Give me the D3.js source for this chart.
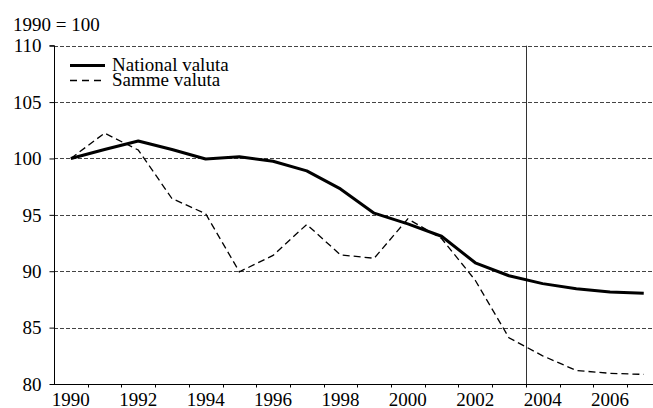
<!DOCTYPE html>
<html><head><meta charset="utf-8"><script src="https://cdn.jsdelivr.net/npm/d3@7"></script></head>
<body style="margin:0">
<svg id="chart" width="653" height="408"></svg>
<script>
const years = [1990,1991,1992,1993,1994,1995,1996,1997,1998,1999,2000,2001,2002,2003,2004,2005,2006,2007];
const nationalValuta = [100.0,100.8,101.55,100.8,99.95,100.15,99.75,98.9,97.3,95.15,94.2,93.1,90.75,89.6,88.9,88.45,88.15,88.05];
const sammeValuta = [100.0,102.25,100.75,96.45,95.1,89.95,91.4,94.15,91.45,91.15,94.65,92.9,89.2,84.1,82.5,81.2,80.95,80.85];
const yTicks = [80,85,90,95,100,105,110];
const xTickLabels = [1990,1992,1994,1996,1998,2000,2002,2004,2006];
const seriesNames = ["National valuta","Samme valuta"];
const markerYear = 2004;
const unitLabel = "1990 = 100";

const fontName = "Liberation Serif";
const fontSize = 19;
const svg = d3.select("#chart");
const plotLeft = 54, plotTop = 45.7, plotBottom = 384;
const band = 33.7;

const x = d3.scaleBand().domain(years).range([plotLeft, plotLeft + band * years.length]).paddingInner(0).paddingOuter(0);
const y = d3.scaleLinear().domain([80,110]).range([plotBottom, plotTop]);
const cx = d => x(d) + x.bandwidth() / 2;

function addText(sel) {
  return sel.append("text").attr("fill", "#000");
}

// gridlines
svg.append("g").selectAll("line").data(yTicks.filter(v => v > 80)).join("line")
  .attr("x1", plotLeft).attr("x2", 653)
  .attr("y1", d => Math.round(y(d)) + 0.5).attr("y2", d => Math.round(y(d)) + 0.5)
  .attr("stroke", "#444").attr("stroke-width", 1).attr("stroke-dasharray", "4,2");

// y axis
const yAxis = d3.axisLeft(y).tickValues(yTicks).tickSize(5).tickPadding(8).tickFormat(d3.format("d"));
const gy = svg.append("g").attr("transform", `translate(${plotLeft + 0.5},0)`).call(yAxis);
gy.attr("font-family", fontName).attr("font-size", fontSize);
gy.select(".domain").attr("stroke", "#000").attr("d", `M-5,${y(110)}H0V${plotBottom}`);
gy.selectAll(".tick line").attr("stroke", "#000");
gy.selectAll(".tick text").attr("fill", "#000").attr("dy", "0.33em");

// x axis: ticks at band boundaries
const boundaries = years.map(d => x(d)).concat([x(years[years.length-1]) + x.bandwidth()]);
const gx = svg.append("g");
gx.append("line").attr("x1", plotLeft).attr("x2", 653).attr("y1", plotBottom + 0.5).attr("y2", plotBottom + 0.5).attr("stroke", "#000");
gx.selectAll("line.tk").data(boundaries.slice(1)).join("line").attr("class", "tk")
  .attr("x1", d => Math.round(d) + 0.5).attr("x2", d => Math.round(d) + 0.5)
  .attr("y1", plotBottom).attr("y2", plotBottom + 3.5).attr("stroke", "#000");
gx.selectAll("text").data(xTickLabels).join("text")
  .attr("x", d => cx(d)).attr("y", 406).attr("text-anchor", "middle")
  .attr("fill", "#000").text(d => d);

// vertical marker line
const mx = Math.round(x(markerYear)) + 0.5;
svg.append("line").attr("x1", mx).attr("x2", mx).attr("y1", plotTop).attr("y2", plotBottom)
  .attr("stroke", "#333").attr("stroke-width", 1);

// lines
const line = d3.line().x((d, i) => cx(years[i])).y(d => y(d));
svg.append("path").datum(sammeValuta).attr("d", line)
  .attr("fill", "none").attr("stroke", "#000").attr("stroke-width", 1.3).attr("stroke-dasharray", "7,4");
svg.append("path").datum(nationalValuta).attr("d", line)
  .attr("fill", "none").attr("stroke", "#000").attr("stroke-width", 3).attr("stroke-linejoin", "round");

// unit label
addText(svg).attr("x", 13).attr("y", 31).text(unitLabel);

// legend
const lg = svg.append("g");
lg.append("rect").attr("x", 64).attr("y", 52).attr("width", 165).attr("height", 38).attr("fill", "#fff");
lg.append("line").attr("x1", 70).attr("x2", 105).attr("y1", 65.5).attr("y2", 65.5)
  .attr("stroke", "#000").attr("stroke-width", 3);
addText(lg).attr("x", 112).attr("y", 71).text(seriesNames[0]);
lg.append("line").attr("x1", 70).attr("x2", 106).attr("y1", 80.5).attr("y2", 80.5)
  .attr("stroke", "#000").attr("stroke-width", 1.3).attr("stroke-dasharray", "7,5");
addText(lg).attr("x", 112).attr("y", 86).text(seriesNames[1]);

// apply font to every text with inline, important styles
svg.selectAll("text")
  .attr("font-family", fontName)
  .attr("font-size", fontSize)
  .style("font-family", "'Liberation Serif', 'Times New Roman', Tinos, serif", "important")
  .style("font-size", fontSize + "px", "important");
</script>
</body>
</html>
